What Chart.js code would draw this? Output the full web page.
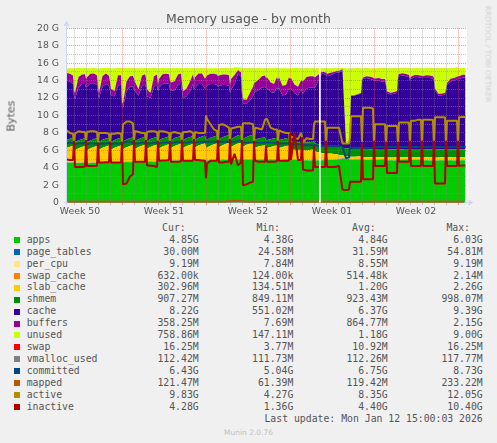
<!DOCTYPE html>
<html><head><meta charset="utf-8">
<script src="https://cdn.jsdelivr.net/npm/chart.js@4.4.1/dist/chart.umd.min.js"></script>
<style>
html,body{margin:0;padding:0;background:#F0F0F0;}
body{width:497px;height:443px;overflow:hidden;position:relative;}
#c{position:absolute;left:0;top:0;}
.t{position:absolute;white-space:pre;line-height:normal;color:#555;font-family:'DejaVu Sans',sans-serif;}
.m{position:absolute;white-space:pre;line-height:normal;color:#555;font-family:'DejaVu Sans Mono',monospace;font-size:9.8px;}
.sw{position:absolute;width:6px;height:6px;}
</style></head><body>
<canvas id="c" width="497" height="220"></canvas>
<div class="t" id="title" style="left:0;width:497px;text-align:center;top:11.2px;font-size:12.5px;">Memory usage - by month</div>
<div class="t" id="ylab" style="left:10.8px;top:115.5px;font-size:11.1px;color:#5a5a5a;transform:translate(-50%,-50%) rotate(-90deg);">Bytes</div>
<div class="t" id="wm" style="left:487.5px;top:53.5px;font-size:7.5px;color:#d0d0d0;transform:translate(-50%,-50%) rotate(90deg);">RRDTOOL / TOBI OETIKER</div>
<div id="legend"></div>
<div class="t" id="foot" style="left:0;width:497px;text-align:center;top:427.5px;font-size:7.5px;color:#c0c0c0;">Munin 2.0.76</div>
<script>
// ---------- time axis (hours from Thu 11 Dec 2025 00:00) ----------
const SLOT_HOURS = [0, 2, 9, 16, 22];
const hours = [];
for (let d = -1; d <= 31; d++) for (const s of SLOT_HOURS) { const t = d * 24 + s; if (t > -24) hours.push(t); }
hours.push(768, 770, 777, 783); // Mon 12 Jan up to last update 15:00
const noonHours = [];
for (let d = -1; d <= 32; d++) noonHours.push(d * 24 + 12);

const weekLabels = ['Week 50', 'Week 51', 'Week 52', 'Week 01', 'Week 02'];
const weekMidHours = [12, 180, 348, 516, 684];
const yTickValues = [0, 2, 4, 6, 8, 10, 12, 14, 16, 18, 20];
const yTickLabels = ['0', '2 G', '4 G', '6 G', '8 G', '10 G', '12 G', '14 G', '16 G', '18 G', '20 G'];
const missingRanges = [[490, 493.5]];

// ---------- stacked series (G unless noted) ----------
const apps = [
4.62,4.60,4.58,4.60,
4.55,4.54,4.56,4.55,4.57,
4.55,4.53,4.56,4.55,4.56,
4.60,4.58,4.61,4.60,4.62,
4.60,4.59,4.60,4.62,4.60,
4.65,4.63,4.66,4.65,4.67,
4.70,4.68,4.71,4.70,4.72,
4.70,4.69,4.71,4.70,4.71,
4.75,4.74,4.76,4.75,4.77,
4.80,4.78,4.81,4.80,4.82,
4.80,4.79,4.81,4.80,4.82,
4.85,4.83,4.86,4.85,4.86,
4.85,4.84,4.86,4.85,4.87,
4.90,4.88,4.91,4.90,4.91,
4.90,4.89,4.92,4.95,4.91,
4.95,4.93,4.95,4.96,4.95,
4.95,4.94,4.96,4.95,4.93,
4.90,4.89,4.91,4.90,4.91,
4.90,4.88,4.90,4.91,4.90,
4.90,4.89,4.92,4.90,4.88,
4.85,4.84,4.86,4.85,4.86,
4.85,4.84,4.86,4.87,4.86,
4.90,4.89,4.91,4.90,4.92,
5.00,4.99,5.02,5.00,5.01,
4.95,4.94,4.95,4.96,4.95,
4.90,4.89,4.91,4.90,4.90,
4.90,4.89,4.90,4.91,4.90,
4.85,4.84,4.86,4.85,4.86,
4.90,4.89,4.90,4.91,4.90,
4.90,4.89,4.91,4.90,4.90,
4.85,4.84,4.86,4.85,4.86,
4.85,4.84,4.85,4.86,4.85,
4.85,4.84,4.86,4.85,4.86,
4.85,4.84,4.86,4.85];
const pageTablesM = [
33,32,34,33,
35,31,32,33,32, 34,31,33,32,33, 36,30,32,33,31, 35,31,31,32,33,
38,31,32,33,32, 35,32,33,32,31, 36,31,32,33,32, 34,31,32,32,33,
35,32,31,33,32, 36,31,32,32,31, 35,30,32,33,32, 37,32,33,32,32,
35,31,32,33,32, 36,32,34,41,38, 36,30,30,31,31, 35,31,32,32,33,
34,31,31,32,32, 35,30,31,31,32, 36,33,45,31,32, 34,29,30,30,30,
33,30,31,30,30, 34,29,30,30,31, 33,31,55,27,26, 25,27,28,28,29,
33,29,29,30,30, 33,30,30,31,30, 32,29,29,30,30, 33,30,30,31,31,
33,30,30,30,31, 32,30,31,30,30, 33,29,29,30,30, 32,30,30,30,31,
33,30,30,30];
const perCpuM = [
7.84,7.84,7.84,7.84,
7.86,7.86,7.86,7.86,7.86, 7.86,7.86,7.86,7.86,7.86, 7.86,7.86,7.86,7.86,7.86, 7.86,7.86,7.86,7.86,7.86,
7.86,7.86,7.86,7.86,7.86, 7.86,7.86,7.86,7.86,7.86, 7.86,7.86,7.86,7.86,7.86, 8.10,8.10,8.10,8.10,8.10,
8.10,8.10,8.10,8.10,8.10, 8.10,8.10,8.10,8.10,8.10, 8.10,8.10,8.10,8.10,8.10, 8.10,8.10,8.10,8.10,8.10,
8.10,8.10,8.10,8.10,8.10, 8.10,8.10,8.10,8.10,8.10, 8.38,8.38,8.38,8.38,8.38, 8.38,8.38,8.38,8.38,8.38,
8.38,8.38,8.38,8.38,8.38, 8.38,8.38,8.38,8.38,8.38, 8.38,8.38,8.38,8.38,8.38, 8.38,8.38,8.38,8.38,8.38,
8.38,8.38,8.38,8.38,8.38, 8.75,8.75,8.75,8.75,8.75, 8.75,8.75,8.75,8.75,8.75, 8.75,8.75,8.75,8.75,8.75,
8.75,8.75,8.75,8.75,8.75, 8.75,8.75,8.75,8.75,8.75, 8.75,8.75,8.75,8.75,8.75, 9.19,9.19,9.19,9.19,9.19,
9.19,9.19,9.19,9.19,9.19, 9.19,9.19,9.19,9.19,9.19, 9.19,9.19,9.19,9.19,9.19, 9.19,9.19,9.19,9.19,9.19,
9.19,9.19,9.19,9.19];
const swapCacheK = [
420,480,510,530,
560,410,470,500,520, 600,430,480,500,540, 620,400,460,510,530, 580,390,450,500,520,
2140,380,450,480,500, 610,420,470,520,540, 590,400,460,500,530, 570,410,470,510,520,
600,420,480,500,530, 580,400,460,490,520, 610,420,470,500,540, 590,430,480,510,520,
600,410,470,500,530, 620,420,480,700,560, 580,124,300,400,450, 600,420,470,510,530,
570,410,460,500,520, 590,400,470,500,530, 640,430,900,460,480, 560,380,430,480,500,
550,400,450,480,500, 560,390,440,470,500, 520,410,1100,200,210, 260,330,380,420,460,
540,420,460,490,510, 580,440,480,500,520, 560,420,470,500,520, 600,450,490,520,540,
590,440,480,510,530, 600,450,500,520,540, 610,430,480,510,530, 600,450,500,530,560,
620,600,620,632];
const slab = [
1.45,1.65,1.80,1.90,
1.35,1.45,1.65,1.80,1.90,
1.36,1.46,1.64,1.80,1.89,
1.34,1.45,1.66,1.81,1.90,
1.35,1.44,1.65,1.79,1.91,
1.35,1.45,1.65,1.80,1.90,
1.36,1.45,1.64,1.80,1.90,
1.35,1.46,1.65,1.81,1.89,
1.34,1.45,1.65,1.80,1.90,
1.35,1.45,1.66,1.80,1.91,
1.35,1.44,1.65,1.79,1.90,
1.36,1.45,1.65,1.80,1.90,
1.35,1.46,1.64,1.80,1.89,
1.35,1.45,1.65,1.81,1.90,
1.34,1.45,1.65,1.80,1.90,
1.35,1.45,1.66,1.80,1.91,
1.30,1.35,1.45,1.55,1.60,
1.31,1.35,1.44,1.55,1.61,
1.30,1.36,1.45,1.54,1.60,
1.30,1.20,1.10,1.10,1.15,
1.20,1.10,1.10,1.15,1.20,
1.25,1.00,0.90,0.80,0.80,
0.75,0.70,0.70,0.65,0.60,
0.50,0.45,0.35,0.30,0.30,
0.30,0.30,0.29,0.30,0.30,
0.30,0.31,0.30,0.30,0.30,
0.31,0.31,0.31,0.30,0.31,
0.30,0.30,0.30,0.30,0.30,
0.30,0.31,0.30,0.30,0.30,
0.30,0.30,0.30,0.31,0.30,
0.30,0.30,0.30,0.30,0.30,
0.30,0.29,0.30,0.30,0.30,
0.30,0.30,0.30,0.30,0.31,
0.30,0.30,0.30,0.30];
const shmem = [
0.91,0.90,0.90,0.90,
0.90,0.90,0.91,0.90,0.90, 0.90,0.90,0.90,0.91,0.90, 0.90,0.89,0.90,0.90,0.90, 0.90,0.90,0.90,0.90,0.91,
0.90,0.90,0.91,0.90,0.90, 0.90,0.90,0.90,0.90,0.90, 0.91,0.90,0.90,0.90,0.90, 0.90,0.90,0.91,0.90,0.90,
0.90,0.90,0.90,0.90,0.90, 0.90,0.91,0.90,0.90,0.90, 0.90,0.90,0.90,0.91,0.90, 0.92,0.90,0.90,0.90,0.90,
0.90,0.90,0.90,0.90,0.90, 0.90,0.90,0.92,0.95,0.93, 0.91,0.90,0.90,0.90,0.90, 0.90,0.90,0.90,0.90,0.90,
0.90,0.90,0.90,0.90,0.90, 0.90,0.90,0.90,0.90,0.90, 0.91,0.90,0.92,0.90,0.90, 0.90,0.90,0.90,0.90,0.90,
0.90,0.90,0.90,0.90,0.90, 0.90,0.90,0.90,0.90,0.90, 0.90,0.90,0.90,0.87,0.86, 0.88,0.89,0.90,0.90,0.90,
0.90,0.90,0.90,0.90,0.90, 0.90,0.90,0.90,0.90,0.90, 0.90,0.90,0.90,0.90,0.90, 0.90,0.90,0.90,0.90,0.90,
0.90,0.90,0.90,0.90,0.90, 0.90,0.90,0.90,0.90,0.90, 0.90,0.90,0.90,0.90,0.90, 0.90,0.90,0.90,0.91,0.91,
0.91,0.91,0.91,0.91];
const cache = [
7.11,6.81,6.56,6.16,
5.36,4.96,6.06,6.31,6.21,
6.36,6.36,6.56,6.41,6.11,
5.71,5.01,6.11,6.26,5.96,
6.01,5.31,5.01,6.06,6.06,
4.06,3.86,5.56,5.91,5.81,
6.01,5.71,5.01,5.96,5.96,
6.21,5.11,4.71,5.86,5.96,
5.76,6.06,6.26,6.21,6.01,
5.91,5.71,5.41,5.96,5.96,
5.71,4.81,4.81,5.26,5.96,
5.86,5.96,6.16,6.01,5.41,
6.06,6.16,6.16,6.01,5.81,
6.11,6.11,6.01,5.86,5.66,
5.41,5.71,6.01,7.06,6.66,
5.06,4.06,3.76,4.01,4.41,
5.31,5.46,5.56,5.76,5.81,
5.96,6.01,5.41,5.21,5.76,
5.86,6.01,5.01,5.01,5.66,
5.86,6.06,5.56,5.36,6.01,
5.71,5.61,6.21,6.26,6.21,
6.16,6.41,7.31,8.21,8.11,
8.01,7.96,8.06,8.31,8.46,
8.46,8.51,8.91,0.56,0.58,
3.31,6.11,6.11,6.21,6.31,
7.86,8.06,8.16,8.06,7.96,
7.85,7.85,7.85,7.75,7.75,
7.31,6.51,6.31,6.41,6.51,
8.16,8.36,8.46,8.36,8.26,
7.86,8.06,8.26,8.26,8.16,
8.21,8.21,8.21,8.21,8.11,
7.91,6.81,6.21,6.21,6.31,
6.71,7.41,7.81,7.91,8.01,
8.11,8.11,8.21,8.22];
const buffers = [
0.85,0.90,0.90,1.00,
0.70,0.70,1.20,1.10,1.10,
1.00,1.10,1.10,1.10,1.10,
0.70,0.60,1.20,1.20,1.10,
1.00,0.80,0.60,1.20,1.10,
0.50,0.50,1.10,1.20,1.20,
1.20,1.10,0.70,1.20,1.20,
1.10,0.80,0.60,1.20,1.20,
0.80,1.00,1.10,1.10,1.10,
1.00,0.90,1.10,1.20,1.20,
0.90,0.80,0.90,1.10,1.10,
1.00,1.20,1.20,1.20,1.10,
1.20,1.20,1.20,1.20,1.20,
1.20,1.20,1.20,1.20,1.20,
0.90,1.20,1.10,0.40,0.50,
0.70,0.50,0.50,0.90,1.10,
1.20,1.10,1.20,1.30,1.30,
1.20,1.20,1.10,1.00,1.20,
1.10,1.20,1.10,1.10,1.30,
1.20,1.20,1.00,1.00,1.00,
1.30,1.40,1.30,1.30,1.30,
1.20,1.20,0.70,0.20,0.25,
0.30,0.30,0.30,0.20,0.20,
0.20,0.20,0.10,0.01,0.01,
0.02,0.03,0.05,0.07,0.08,
0.10,0.15,0.20,0.25,0.25,
0.25,0.25,0.30,0.30,0.30,
0.20,0.20,0.20,0.20,0.20,
0.20,0.25,0.25,0.25,0.25,
0.20,0.25,0.25,0.25,0.25,
0.25,0.25,0.30,0.30,0.30,
0.30,0.25,0.20,0.20,0.20,
0.20,0.25,0.30,0.30,0.30,
0.30,0.30,0.35,0.36];
const unused = [
0.47,0.52,0.62,0.82,
2.52,2.82,1.02,0.72,0.72,
1.22,1.02,0.62,0.62,0.82,
2.12,2.82,0.92,0.62,0.92,
1.52,2.32,2.62,0.82,0.82,
3.92,4.02,1.52,0.92,0.92,
1.22,1.52,2.42,0.82,0.72,
1.12,2.42,2.82,0.92,0.72,
1.82,1.22,0.72,0.62,0.72,
1.42,1.62,1.52,0.72,0.62,
1.72,2.62,2.32,1.52,0.72,
1.42,1.02,0.62,0.62,1.22,
1.02,0.82,0.62,0.62,0.72,
0.92,0.82,0.72,0.72,0.82,
1.92,1.22,0.82,0.32,0.52,
2.42,3.52,3.62,2.82,2.12,
1.72,1.62,1.32,0.92,0.82,
1.12,1.02,1.62,1.82,1.02,
1.32,1.02,2.02,1.92,1.02,
1.22,1.12,1.92,2.12,1.42,
1.42,1.52,1.02,0.92,0.92,
1.02,1.02,0.72,0.42,0.47,
0.52,0.62,0.52,0.42,0.32,
0.32,0.32,0.12,8.61,8.59,
5.90,3.09,3.07,2.95,2.84,
1.32,1.07,0.92,0.97,1.07,
1.17,1.17,1.12,1.22,1.22,
1.82,2.62,2.82,2.72,2.62,
0.92,0.67,0.57,0.67,0.77,
1.22,0.97,0.77,0.77,0.87,
0.87,0.87,0.82,0.82,0.92,
1.12,2.27,2.92,2.92,2.82,
2.42,1.67,1.22,1.12,1.02,
0.92,0.92,0.77,0.76];
const swapM = [
3.77,3.77,3.77,3.77,
3.90,3.90,3.90,3.90,3.90, 3.90,3.90,3.90,3.90,3.90, 3.90,3.90,3.90,3.90,3.90, 3.90,3.90,3.90,3.90,3.90,
6.80,6.80,6.80,6.80,6.80, 6.80,6.80,6.80,6.80,6.80, 6.80,6.80,6.80,6.80,6.80, 6.80,6.80,6.80,6.80,6.80,
6.80,6.80,6.80,6.80,6.80, 6.80,6.80,6.80,6.80,6.80, 6.80,6.80,6.80,6.80,6.80, 10.3,10.3,10.3,10.3,10.3,
10.3,10.3,10.3,10.3,10.3, 10.3,10.3,10.3,10.3,10.3, 10.3,10.3,10.3,10.3,10.3, 10.3,10.3,10.3,10.3,10.3,
10.3,10.3,10.3,10.3,10.3, 10.3,10.3,10.3,10.3,10.3, 13.6,13.6,13.6,13.6,13.6, 13.6,13.6,13.6,13.6,13.6,
13.6,13.6,13.6,13.6,13.6, 13.6,13.6,13.6,13.6,13.6, 13.6,13.6,13.6,13.6,13.6, 13.6,13.6,13.6,13.6,13.6,
13.6,13.6,13.6,13.6,13.6, 16.25,16.25,16.25,16.25,16.25, 16.25,16.25,16.25,16.25,16.25, 16.25,16.25,16.25,16.25,16.25,
16.25,16.25,16.25,16.25,16.25, 16.25,16.25,16.25,16.25,16.25, 16.25,16.25,16.25,16.25,16.25, 16.25,16.25,16.25,16.25,16.25,
16.25,16.25,16.25,16.25];

// ---------- line series ----------
const committed = [
6.8,6.8,6.9,6.9,
6.7,6.7,6.8,6.8,6.9, 6.7,6.7,6.8,6.8,6.8, 6.7,6.7,6.8,6.8,6.9, 6.7,6.7,6.8,6.8,6.8,
6.8,6.9,7.0,7.0,6.9, 6.8,6.8,6.8,6.9,6.9, 6.8,6.8,6.8,6.9,6.9, 6.8,6.8,6.9,6.9,6.9,
6.9,6.9,6.9,7.0,7.0, 6.9,6.9,6.9,7.0,7.0, 6.9,6.9,7.0,7.0,7.0, 7.0,7.0,7.0,7.0,7.0,
7.0,7.0,7.0,7.0,7.0, 7.0,7.0,7.0,7.1,7.1, 7.0,6.9,6.9,6.9,6.9, 6.9,6.9,6.9,6.9,6.9,
6.9,6.9,6.9,6.9,6.9, 6.8,6.8,6.8,6.8,6.8, 6.7,6.7,6.7,6.7,6.7, 6.6,6.6,6.6,6.6,6.6,
6.6,6.6,6.5,6.5,6.5, 6.5,6.5,6.5,6.5,6.5, 6.5,6.5,6.4,5.1,5.2, 6.3,6.3,6.3,6.3,6.3,
6.3,6.3,6.3,6.3,6.3, 6.4,6.4,6.4,6.4,6.4, 6.4,6.4,6.4,6.4,6.4, 6.4,6.4,6.4,6.4,6.4,
6.4,6.4,6.4,6.4,6.4, 6.4,6.4,6.4,6.4,6.4, 6.4,6.4,6.4,6.4,6.4, 6.4,6.4,6.4,6.4,6.4,
6.4,6.4,6.43,6.43];
const active = [
8.5,8.3,8.0,7.9,
6.8,7.9,8.2,8.1,8.1,
6.9,8.1,8.2,8.2,8.1,
6.9,8.0,8.0,8.0,7.9,
6.8,7.9,7.9,8.0,7.9,
7.0,9.0,9.3,9.3,9.1,
7.0,8.2,8.1,8.0,8.0,
6.9,8.1,8.2,8.2,8.1,
7.0,8.2,8.2,8.1,8.0,
6.9,8.0,8.1,8.0,7.9,
6.9,8.1,8.1,8.2,8.0,
6.8,8.1,8.0,8.0,8.0,
10.0,9.6,9.0,8.4,8.2,
7.0,8.9,9.0,8.8,8.6,
7.0,8.5,8.6,8.7,8.7,
7.0,9.1,9.1,9.1,9.0,
7.0,8.6,8.5,8.4,9.5,
9.6,9.6,8.6,8.4,8.4,
7.0,8.3,8.1,8.0,8.0,
6.9,7.6,7.4,7.3,8.0,
7.6,6.9,7.4,7.3,7.3,
9.0,9.3,9.3,9.3,9.3,
6.4,8.6,8.6,8.6,8.6,
8.6,8.6,6.8,6.8,6.8,
7.5,9.9,9.9,9.9,9.9,
7.0,10.9,10.9,10.9,10.8,
6.4,9.0,9.0,9.0,9.0,
6.5,8.8,8.8,8.8,8.8,
6.5,9.2,9.2,9.2,9.2,
6.5,9.4,9.4,9.5,9.5,
6.4,9.5,9.5,9.5,9.5,
6.4,9.8,9.8,9.8,9.8,
6.4,9.4,9.4,9.4,9.4,
6.4,9.8,9.83,9.83];
const inactive = [
5.2,4.95,4.9,4.9,
7.1,4.1,4.1,4.1,4.15,
7.2,4.2,4.2,4.2,4.25,
6.9,4.6,4.6,4.65,4.65,
7.0,4.6,4.6,4.6,4.6,
7.0,2.1,2.2,3.0,3.3,
7.2,4.7,4.7,4.7,4.7,
7.2,4.3,4.25,4.2,4.1,
7.1,4.8,4.85,4.85,4.9,
7.1,4.7,4.7,4.7,4.75,
7.2,4.8,4.8,4.8,4.85,
7.3,4.9,4.9,4.85,4.8,
2.8,4.5,4.8,4.8,4.8,
7.2,4.6,4.6,4.7,4.7,
7.3,4.4,5.6,4.3,4.6,
7.2,2.0,2.1,2.3,2.4,
7.1,4.8,4.7,4.7,4.7,
6.5,4.7,4.7,4.7,4.75,
7.1,4.8,4.8,4.8,4.85,
7.9,4.9,8.0,4.9,4.9,
7.5,3.8,3.7,3.7,3.7,
6.5,4.1,4.1,4.1,4.1,
7.1,4.1,4.1,4.1,4.15,
4.2,4.2,1.5,1.45,1.5,
2.4,2.4,2.4,2.4,2.4,
6.8,2.7,2.7,2.7,2.7,
7.1,4.2,4.2,4.2,4.2,
7.0,3.4,3.4,3.4,3.4,
7.0,4.7,4.7,4.7,4.7,
7.1,4.2,4.2,4.2,4.2,
7.1,4.2,4.2,4.2,4.2,
7.1,2.2,2.2,2.2,2.2,
7.1,4.2,4.2,4.2,4.2,
7.1,4.2,4.28,4.28];
// daily (noon) samples, in M
const vmallocM = [112.3,112.2,112.1,112.3,112.2,112.4,112.1,112.2,112.3,112.2,112.1,112.3,112.2,112.4,117.8,112.3,112.2,112.1,112.3,112.2,112.2,112.4,112.3,112.1,111.7,112.2,112.3,112.2,112.4,112.3,112.2,112.3,112.4,112.4];
const mappedM = [118,121,119,120,122,118,121,119,120,118,121,122,119,120,233,124,119,118,120,121,119,120,118,61,96,118,120,119,121,120,119,120,121,121.5];

// ---------- legend ----------
const legendNames = ['apps','page_tables','per_cpu','swap_cache','slab_cache','shmem','cache','buffers','unused','swap','vmalloc_used','committed','mapped','active','inactive'];
const legendColors = ['#00CC00','#0066B3','#FFE680','#FF8000','#FFCC00','#008F00','#330099','#990099','#CCFF00','#FF0000','#808080','#00487D','#B35A00','#B38F00','#B30000'];
const curText = ['4.85G','30.00M','9.19M','632.00k','302.96M','907.27M','8.22G','358.25M','758.86M','16.25M','112.42M','6.43G','121.47M','9.83G','4.28G'];
const minText = ['4.38G','24.58M','7.84M','124.00k','134.51M','849.11M','551.02M','7.69M','147.11M','3.77M','111.73M','5.04G','61.39M','4.27G','1.36G'];
const avgText = ['4.84G','31.59M','8.55M','514.48k','1.20G','923.43M','6.37G','864.77M','1.18G','10.92M','112.26M','6.75G','119.42M','8.35G','4.40G'];
const maxText = ['6.03G','54.81M','9.19M','2.14M','2.26G','998.07M','9.39G','2.15G','9.00G','16.25M','117.77M','8.73G','233.22M','12.05G','10.40G'];
const headerText = ['Cur:','Min:','Avg:','Max:'];
const lastUpdate = 'Last update: Mon Jan 12 15:00:03 2026';

(function buildLegend(){
  const L = document.getElementById('legend');
  const MONO_ASC = 0.928 * 9.8;
  const base0 = 230.8, step = 11.95;
  const headRight = [185.7, 280, 375.7, 470];
  const valRight = [198.7, 293.3, 387.7, 482.7];
  function txt(s, baseline, opts){
    const d = document.createElement('div'); d.className = 'm'; d.textContent = s;
    d.style.top = (baseline - MONO_ASC) + 'px';
    if (opts.right !== undefined) { d.style.right = (497 - opts.right) + 'px'; d.style.textAlign = 'right'; }
    else d.style.left = opts.left + 'px';
    L.appendChild(d);
  }
  headerText.forEach((h, j) => txt(h, base0, {right: headRight[j]}));
  const cols = [curText, minText, avgText, maxText];
  legendNames.forEach((n, i) => {
    const b = base0 + step * (i + 1);
    const sw = document.createElement('div'); sw.className = 'sw';
    sw.style.left = '14px'; sw.style.top = (b - 5.9) + 'px'; sw.style.background = legendColors[i];
    L.appendChild(sw);
    txt(n, b, {left: 26.7});
    cols.forEach((c, j) => txt(c[i], b, {right: valRight[j]}));
  });
  txt(lastUpdate, base0 + step * 16, {right: 482.7});
})();

// ---------- chart ----------
const GRID_MINOR = 'rgba(143,143,143,0.5)';
const GRID_MAJOR = 'rgba(222,79,79,0.55)';
const AXIS_COL = '#CFD6F8';
const FIRST_MONDAY = 96;

function pts(times, vals, k) { return vals.map((v, i) => ({x: times[i], y: v * k})); }

const areaDefs = [
  ['apps', apps, 1], ['page_tables', pageTablesM, 1/1024], ['per_cpu', perCpuM, 1/1024],
  ['swap_cache', swapCacheK, 1/1048576], ['slab_cache', slab, 1], ['shmem', shmem, 1],
  ['cache', cache, 1], ['buffers', buffers, 1], ['unused', unused, 1], ['swap', swapM, 1/1024]
];
const datasets = areaDefs.map(([name, vals, k], i) => ({
  label: name, data: pts(hours, vals, k),
  backgroundColor: legendColors[legendNames.indexOf(name)],
  borderWidth: 0, pointRadius: 0, fill: i === 0 ? 'origin' : '-1',
  stack: 'mem', order: 10, tension: 0
}));
const lineDefs = [
  ['vmalloc_used', noonHours, vmallocM, 1/1024, 5],
  ['committed', hours, committed, 1, 4],
  ['mapped', noonHours, mappedM, 1/1024, 3],
  ['active', hours, active, 1, 2],
  ['inactive', hours, inactive, 1, 1]
];
lineDefs.forEach(([name, times, vals, k, ord]) => datasets.push({
  label: name, data: pts(times, vals, k),
  borderColor: legendColors[legendNames.indexOf(name)], backgroundColor: 'transparent',
  borderWidth: 2, pointRadius: 0, fill: false, stack: 'line_' + name, order: ord,
  tension: 0, borderJoinStyle: 'bevel', clip: 0
}));

function drawAxes(chart) {
  const {ctx, chartArea: a} = chart;
  ctx.save();
  ctx.strokeStyle = AXIS_COL; ctx.fillStyle = AXIS_COL; ctx.lineWidth = 1; ctx.setLineDash([]);
  const ax = a.left - 0.5, ay = Math.round(a.bottom) - 0.5;
  ctx.beginPath(); ctx.moveTo(ax, a.bottom + 2); ctx.lineTo(ax, a.top - 3); ctx.stroke();
  ctx.beginPath(); ctx.moveTo(ax, a.top - 7.5); ctx.lineTo(ax - 3, a.top - 2.5); ctx.lineTo(ax + 3, a.top - 2.5); ctx.closePath(); ctx.fill();
  ctx.beginPath(); ctx.moveTo(a.left - 3, ay); ctx.lineTo(a.right + 2, ay); ctx.stroke();
  ctx.beginPath(); ctx.moveTo(a.right + 6.5, ay); ctx.lineTo(a.right + 1.5, ay - 3); ctx.lineTo(a.right + 1.5, ay + 3); ctx.closePath(); ctx.fill();
  const xs = chart.scales.x;
  for (let h = 0; h <= 768; h += 24) {
    const px = Math.round(xs.getPixelForValue(h) - 0.5) + 0.5;
    ctx.strokeStyle = ((h - FIRST_MONDAY) % 168 === 0) ? GRID_MAJOR : GRID_MINOR;
    ctx.beginPath(); ctx.moveTo(px, a.bottom + 0.5); ctx.lineTo(px, a.bottom + 2.5); ctx.stroke();
  }
  ctx.restore();
}
function drawGrid(chart) {
  const {ctx, chartArea: a, scales: {x, y}} = chart;
  ctx.save();
  ctx.beginPath(); ctx.rect(a.left, a.top - 1, a.right - a.left, a.bottom - a.top + 1); ctx.clip();
  ctx.lineWidth = 1; ctx.setLineDash([1, 1]);
  for (let v = 1; v <= 20; v++) {
    const py = Math.round(y.getPixelForValue(v) - 0.5) + 0.5;
    ctx.strokeStyle = v % 2 === 0 ? GRID_MAJOR : GRID_MINOR;
    ctx.beginPath(); ctx.moveTo(a.left, py); ctx.lineTo(a.right, py); ctx.stroke();
  }
  for (let h = 0; h <= 768; h += 24) {
    const px = Math.round(x.getPixelForValue(h) - 0.5) + 0.5;
    ctx.strokeStyle = ((h - FIRST_MONDAY) % 168 === 0) ? GRID_MAJOR : GRID_MINOR;
    ctx.beginPath(); ctx.moveTo(px, a.top); ctx.lineTo(px, a.bottom); ctx.stroke();
  }
  ctx.restore();
}
function drawGaps(chart) {
  const {ctx, chartArea: a, scales: {x}} = chart;
  ctx.save(); ctx.fillStyle = '#FFFFFF';
  missingRanges.forEach(([h0, h1]) => {
    const x0 = x.getPixelForValue(h0), x1 = x.getPixelForValue(h1);
    ctx.fillRect(x0, a.top, x1 - x0, a.bottom - a.top);
  });
  ctx.restore();
}
const rrdPlugin = {
  id: 'rrd',
  beforeDraw(chart) {
    const {ctx, chartArea: a} = chart;
    ctx.save(); ctx.fillStyle = '#FFFFFF';
    ctx.fillRect(a.left, a.top, a.right - a.left, a.bottom - a.top); ctx.restore();
  },
  beforeDatasetsDraw(chart) { drawAxes(chart); },
  afterDatasetDraw(chart, args) { if (args.index === 0) drawGrid(chart); },
  afterDatasetsDraw(chart) { drawGaps(chart); }
};

Chart.defaults.font.family = "'DejaVu Sans', sans-serif";
new Chart(document.getElementById('c'), {
  type: 'line',
  data: {datasets},
  plugins: [rrdPlugin],
  options: {
    responsive: false, animation: false, devicePixelRatio: 1, events: [],
    layout: {padding: {left: 0, right: 30, top: 28.3, bottom: 0}},
    plugins: {legend: {display: false}, tooltip: {enabled: false}, title: {display: false}},
    scales: {
      x: {
        type: 'linear', min: -14, max: 786,
        grid: {display: false, drawTicks: false}, border: {display: false},
        afterBuildTicks: s => { s.ticks = weekMidHours.map(v => ({value: v})); },
        afterFit: s => { s.height = 17.3; },
        ticks: {autoSkip: false, maxRotation: 0, padding: 3.6, color: '#555', font: {size: 9.3},
                callback: (v, i) => weekLabels[i]}
      },
      y: {
        stacked: true, min: 0, max: 20,
        grid: {display: false, drawTicks: false}, border: {display: false},
        afterBuildTicks: s => { s.ticks = yTickValues.map(v => ({value: v})); },
        afterFit: s => { s.width = 67; },
        ticks: {padding: 8, color: '#555', font: {size: 9.3}, callback: (v, i) => yTickLabels[i]}
      }
    }
  }
});
</script>
</body></html>
